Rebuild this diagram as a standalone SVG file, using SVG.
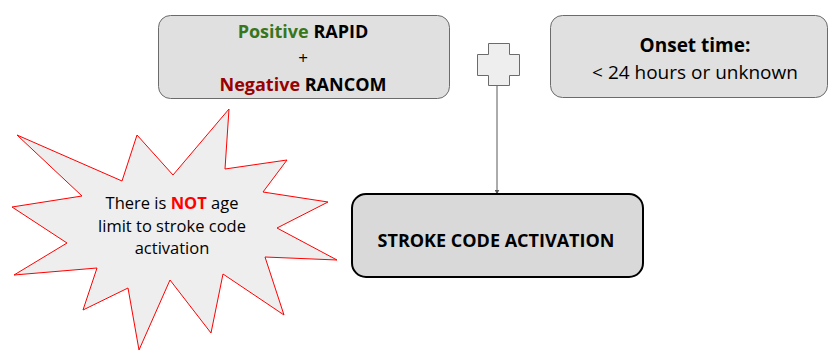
<svg xmlns="http://www.w3.org/2000/svg" width="829" height="351" viewBox="0 0 829 351">
<style>
text{font-family:"Open Sans","Liberation Sans",sans-serif;text-anchor:middle;fill:#000}
.b{font-weight:bold}
.box{fill:#e0e0e0;stroke:#6b6b6b;stroke-width:1}
</style>
<defs>
<marker id="ah" viewBox="0 0 10 10" refX="9" refY="5" markerWidth="5" markerHeight="5" orient="auto">
<path d="M0,0 L10,5 L0,10 z" fill="#595959"/>
</marker>
</defs>
<rect width="829" height="351" fill="#fff"/>
<g id="connectors">
<line x1="497" y1="85" x2="497" y2="194" stroke="#595959" stroke-width="1" marker-end="url(#ah)"/>
</g>
<g id="rapid">
<rect class="box" x="158.5" y="15.5" width="291" height="83" rx="12"/>
<text x="303" y="38" font-size="18" class="b"><tspan fill="#38761d">Positive</tspan> RAPID</text>
<text x="303" y="64" font-size="17">+</text>
<text x="303" y="91" font-size="18" class="b"><tspan fill="#990000">Negative</tspan> RANCOM</text>
</g>
<g id="cross">
<path d="M488.5,43.5 H509.5 V54.5 H519.5 V75.5 H509.5 V85.5 H488.5 V75.5 H477.5 V54.5 H488.5 Z" fill="#eeeeee" stroke="#6b6b6b" stroke-width="1"/>
</g>
<g id="onset">
<rect class="box" x="550.5" y="15.5" width="277" height="82" rx="12"/>
<text x="695" y="52" font-size="19" class="b">Onset time:</text>
<text x="695" y="79" font-size="19">&lt; 24 hours or unknown</text>
</g>
<g id="star">
<polygon points="17,135 122,181 137,135 173,175 229,109 225,169 287,160 263,192 328,202 277,228 337,260 265,257 284,315 223,274 211,333 170,280 139,350 128,288 83,310 97,268 14,275 67,243 12,207 82,196" fill="#eeeeee" stroke="#ff0000" stroke-width="1"/>
<text x="172" y="209" font-size="16.5">There is <tspan fill="#ff0000" class="b">NOT</tspan> age</text>
<text x="172" y="232" font-size="16.5">limit to stroke code</text>
<text x="172" y="254" font-size="16.5">activation</text>
</g>
<g id="stroke">
<rect x="352" y="194" width="291" height="83" rx="14" fill="#d9d9d9" stroke="#000" stroke-width="2"/>
<text x="496" y="247" font-size="18" class="b">STROKE CODE ACTIVATION</text>
</g>
</svg>
